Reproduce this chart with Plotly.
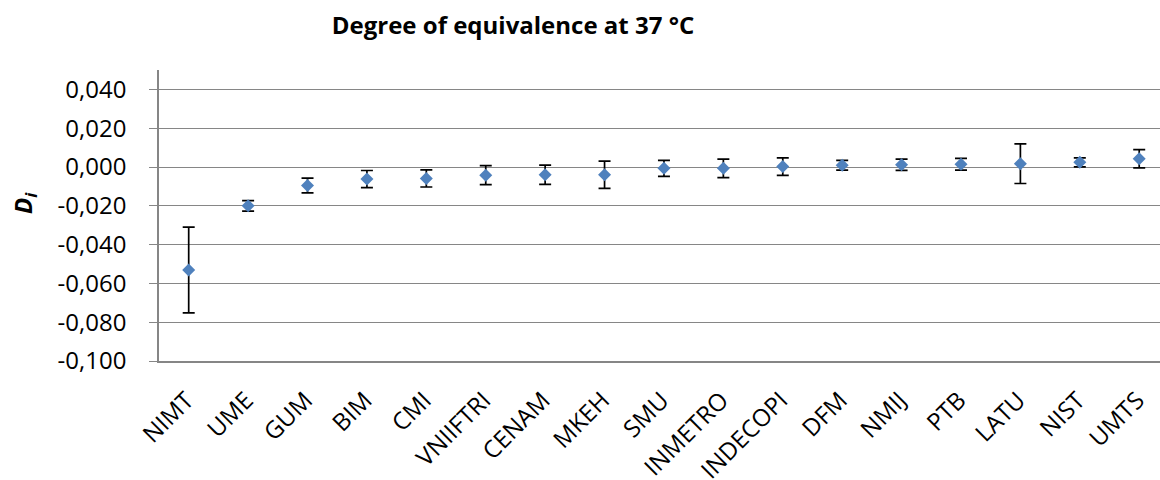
import plotly.graph_objects as go

labs = ["NIMT", "UME", "GUM", "BIM", "CMI", "VNIIFTRI", "CENAM", "MKEH", "SMU",
        "INMETRO", "INDECOPI", "DFM", "NMIJ", "PTB", "LATU", "NIST", "UMTS"]
di = [-0.0531, -0.0200, -0.0095, -0.0062, -0.0059, -0.0042, -0.0040, -0.0040, -0.0007,
      -0.0007, 0.0002, 0.0009, 0.0012, 0.0014, 0.0017, 0.0024, 0.0043]
ui = [0.0221, 0.0027, 0.0038, 0.0044, 0.0044, 0.0049, 0.0050, 0.0070, 0.0041,
      0.0048, 0.0045, 0.0025, 0.0029, 0.0030, 0.0102, 0.0023, 0.0047]
ytickvals = [-0.10, -0.08, -0.06, -0.04, -0.02, 0.0, 0.02, 0.04]
yticktext = ["-0,100", "-0,080", "-0,060", "-0,040", "-0,020", "0,000", "0,020", "0,040"]

FONT = "Open Sans"
GRID = "#868686"

fig = go.Figure()
fig.add_trace(go.Scatter(
    x=labs, y=di, mode="markers",
    marker=dict(symbol="diamond", size=10, color="#4F81BD"),
    error_y=dict(type="data", array=ui, visible=True, color="black",
                 thickness=1.7, width=6),
    showlegend=False,
))

fig.update_layout(
    width=1160, height=480,
    margin=dict(l=159, r=0, t=70, b=119),
    paper_bgcolor="white", plot_bgcolor="white",
    font=dict(family=FONT, size=22, color="black"),
    title=dict(text="<b>Degree of equivalence at 37 °C</b>",
               xref="container", yref="container", x=513/1160, y=1-26/480,
               xanchor="center", yanchor="middle",
               font=dict(family=FONT, size=24, color="black")),
    xaxis=dict(type="category", range=[-0.5, 16.35], showgrid=False,
               showline=True, linecolor=GRID, linewidth=1.5, ticks="",
               tickangle=-45, tickfont=dict(size=24), automargin=False,
               ticklabelstandoff=14, ticklabelshift=-2),
    yaxis=dict(range=[-0.1, 0.05], tickvals=ytickvals, ticktext=yticktext,
               showgrid=True, gridcolor=GRID, gridwidth=1, zeroline=False,
               showline=True, linecolor=GRID, linewidth=1.5,
               ticks="outside", ticklen=8, tickcolor=GRID, tickwidth=1,
               tickfont=dict(size=24), automargin=False,
               ticklabelstandoff=18),
    annotations=[dict(text="<b><i>D<sub>i</sub></i></b>", xref="paper", yref="paper",
                      x=(24-159)/1001, y=(361-203)/291, textangle=-90,
                      showarrow=False, xanchor="center", yanchor="middle",
                      font=dict(family=FONT, size=24, color="black"))],
)

fig.write_html("out.html")
